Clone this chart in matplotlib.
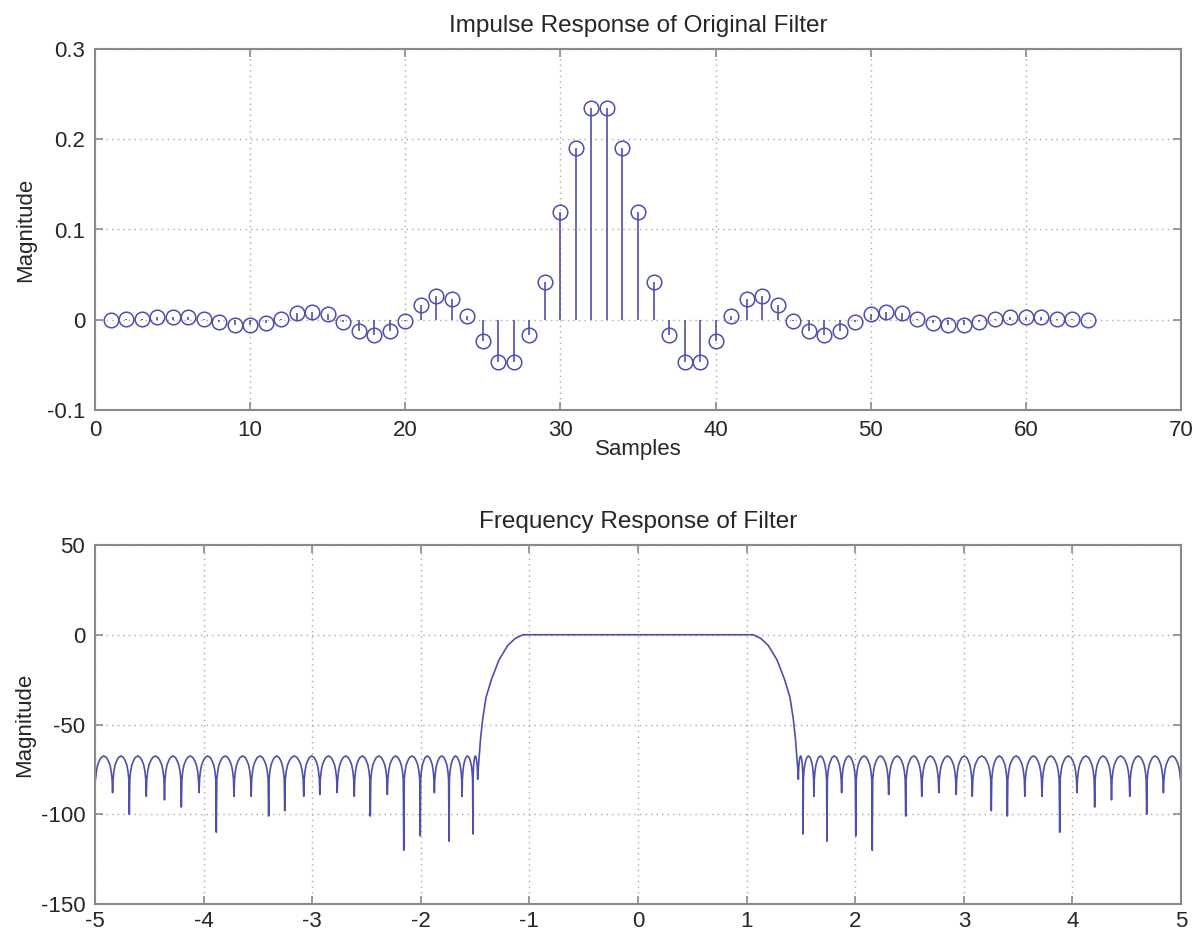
"""
Impulse response (stem) and frequency response (dB) of a 64-tap lowpass filter,
redrawn in the look of an old MATLAB figure.
"""

import numpy as np
import matplotlib
matplotlib.use("Agg")
import matplotlib.pyplot as plt


# =============================
# DATA
# =============================

SAMPLES = list(range(1, 65))
TAPS = [
    0.000, 0.001, 0.001, 0.003, 0.003, 0.003, 0.001, -0.003,
    -0.006, -0.006, -0.004, 0.001, 0.007, 0.009, 0.006, -0.002,
    -0.012, -0.017, -0.013, -0.001, 0.016, 0.026, 0.023, 0.004,
    -0.024, -0.047, -0.047, -0.017, 0.042, 0.119, 0.190, 0.235,
    0.235, 0.190, 0.119, 0.042, -0.017, -0.047, -0.047, -0.024,
    0.004, 0.023, 0.026, 0.016, -0.001, -0.013, -0.017, -0.012,
    -0.002, 0.006, 0.009, 0.007, 0.001, -0.004, -0.006, -0.006,
    -0.003, 0.001, 0.003, 0.003, 0.003, 0.001, 0.001, 0.000,
]

# positive-frequency half; the magnitude response is symmetric about 0
TRANS_F = [1.06, 1.13, 1.20, 1.28, 1.35, 1.40, 1.43, 1.45, 1.46]
TRANS_DB = [0.0, -2.0, -6.0, -14.0, -25.0, -35.0, -47.0, -58.0, -66.0]

STOP_NULL_F = [1.475, 1.52, 1.62, 1.74, 1.875, 2.005, 2.157, 2.308, 2.465,
               2.613, 2.77, 2.93, 3.078, 3.253, 3.401, 3.562, 3.72, 3.883,
               4.042, 4.205, 4.36, 4.528, 4.684, 4.838, 5.0]
STOP_NULL_DB = [-78, -111, -90, -115, -88, -112, -120, -89, -101,
                -90, -88, -89, -90, -98, -101, -90, -90, -110,
                -88, -96, -92, -90, -100, -88, -80]
STOP_PEAK_DB = -67.5

# shape of one stopband lobe: level below the lobe top at fractions of its width
LOBE_FRAC = [0.03, 0.08, 0.15, 0.25, 0.35, 0.5, 0.65, 0.75, 0.85, 0.92, 0.97]
LOBE_REL_DB = [-13.0, -8.5, -5.0, -2.6, -0.9, 0.0, -0.9, -2.6, -5.0, -8.5, -13.0]

TOP_XTICKS = [0, 10, 20, 30, 40, 50, 60, 70]
TOP_YTICKS = [-0.1, 0.0, 0.1, 0.2, 0.3]
TOP_YLABELS = ["-0.1", "0", "0.1", "0.2", "0.3"]
BOT_XTICKS = [-5, -4, -3, -2, -1, 0, 1, 2, 3, 4, 5]
BOT_YTICKS = [-150, -100, -50, 0, 50]


# =============================
# STYLE
# =============================

LINE_COLOR = "#4f4fae"
GRID_COLOR = "#a8a8a8"
FRAME_COLOR = "#8a8a8a"
TEXT_COLOR = "#262626"
FONT_SIZE = 16
TITLE_SIZE = 17.5

plt.rcParams["font.family"] = ["Liberation Sans", "DejaVu Sans"]
plt.rcParams["font.size"] = FONT_SIZE
plt.rcParams["text.color"] = TEXT_COLOR
plt.rcParams["axes.labelcolor"] = TEXT_COLOR
plt.rcParams["axes.unicode_minus"] = False


# =============================
# HELPERS
# =============================

def build_half_response():
    f = list(TRANS_F)
    db = list(TRANS_DB)
    # first null follows directly on the transition band
    f.append(STOP_NULL_F[0])
    db.append(STOP_NULL_DB[0])
    for i in range(1, len(STOP_NULL_F)):
        f0, f1 = STOP_NULL_F[i - 1], STOP_NULL_F[i]
        for frac, rel in zip(LOBE_FRAC, LOBE_REL_DB):
            f.append(f0 + frac * (f1 - f0))
            db.append(STOP_PEAK_DB + rel)
        f.append(f1)
        db.append(STOP_NULL_DB[i])
    return np.array(f), np.array(db)


def style_axes(ax):
    for spine in ax.spines.values():
        spine.set_color(FRAME_COLOR)
        spine.set_linewidth(1.5)
    ax.tick_params(direction="in", top=True, right=True, length=6,
                   width=1.2, color=FRAME_COLOR, labelcolor=TEXT_COLOR,
                   labelsize=FONT_SIZE, pad=7)
    ax.grid(True, color=GRID_COLOR, linestyle=(0, (1, 3)), linewidth=1.0)
    ax.set_axisbelow(True)


# =============================
# MAIN
# =============================

def main() -> None:
    fig = plt.figure(figsize=(12.01, 9.38), dpi=100)
    W, H = 1201, 938

    ax1 = fig.add_axes([95 / W, 1 - 410 / H, 1086 / W, 361 / H])
    ax2 = fig.add_axes([95 / W, 1 - 904 / H, 1086 / W, 359 / H])

    # --- impulse response ---
    markerline, stemlines, baseline = ax1.stem(SAMPLES, TAPS, basefmt=" ")
    plt.setp(stemlines, color=LINE_COLOR, linewidth=1.2)
    plt.setp(markerline, color=LINE_COLOR, marker="o", markersize=10.5,
             markerfacecolor="none", markeredgewidth=1.1)

    ax1.set_xlim(0, 70)
    ax1.set_ylim(-0.1, 0.3)
    ax1.set_xticks(TOP_XTICKS)
    ax1.set_yticks(TOP_YTICKS)
    ax1.set_yticklabels(TOP_YLABELS)
    style_axes(ax1)
    ax1.set_title("Impulse Response of Original Filter", fontsize=TITLE_SIZE, pad=12)
    ax1.set_xlabel("Samples", labelpad=-1)
    ax1.set_ylabel("Magnitude", labelpad=8)

    # --- frequency response ---
    f_pos, db_pos = build_half_response()
    f_all = np.concatenate([-f_pos[::-1], f_pos])
    db_all = np.concatenate([db_pos[::-1], db_pos])
    ax2.plot(f_all, db_all, color=LINE_COLOR, linewidth=1.2)

    ax2.set_xlim(-5, 5)
    ax2.set_ylim(-150, 50)
    ax2.set_xticks(BOT_XTICKS)
    ax2.set_yticks(BOT_YTICKS)
    style_axes(ax2)
    ax2.tick_params(axis="x", pad=5)
    ax2.set_title("Frequency Response of Filter", fontsize=TITLE_SIZE, pad=12)
    ax2.set_ylabel("Magnitude", labelpad=4)

    fig.savefig("out.png", dpi=100)
    plt.close(fig)


if __name__ == "__main__":
    main()
